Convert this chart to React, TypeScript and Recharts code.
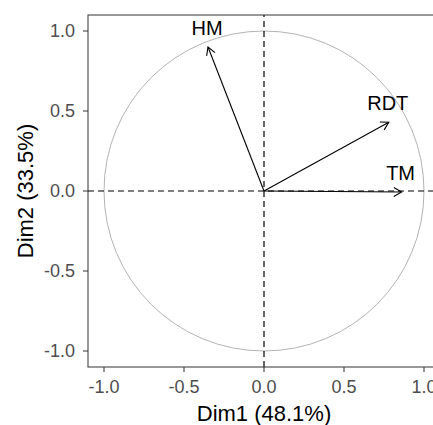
import { ScatterChart, Scatter, XAxis, YAxis, ReferenceLine, ReferenceArea } from 'recharts';

const variables = ['HM', 'RDT', 'TM'];
const dim1 = [-0.35, 0.78, 0.86];
const dim2 = [0.9, 0.43, -0.006];
const axisTicks = [-1, -0.5, 0, 0.5, 1];
const xTitle = 'Dim1 (48.1%)';
const yTitle = 'Dim2 (33.5%)';

const points = variables.map((name, i) => ({ name, x: dim1[i], y: dim2[i] }));

const FONT = '"Liberation Sans", Arial, sans-serif';
const fmt = (v: number) => v.toFixed(1);

// open arrow head drawn at the segment end
function Arrow(props: any) {
  const { x1, y1, x2, y2 } = props;
  const a = Math.atan2(y2 - y1, x2 - x1);
  const len = 9;
  const spread = Math.PI / 6;
  const hx1 = x2 - len * Math.cos(a - spread);
  const hy1 = y2 - len * Math.sin(a - spread);
  const hx2 = x2 - len * Math.cos(a + spread);
  const hy2 = y2 - len * Math.sin(a + spread);
  return (
    <g>
      <line x1={x1} y1={y1} x2={x2} y2={y2} stroke="#000" strokeWidth={1.1} />
      <polyline
        points={`${hx1},${hy1} ${x2},${y2} ${hx2},${hy2}`}
        fill="none"
        stroke="#000"
        strokeWidth={1.1}
      />
    </g>
  );
}

const UnitCircle = (p: any) => (
  <ellipse
    cx={p.x + p.width / 2}
    cy={p.y + p.height / 2}
    rx={p.width / 2}
    ry={p.height / 2}
    fill="none"
    stroke="#b3b3b3"
    strokeWidth={1}
  />
);

const PanelBorder = (p: any) => (
  <rect x={p.x} y={p.y} width={p.width} height={p.height} fill="none" stroke="#333" strokeWidth={1} />
);

const VarLabel = (p: any) => (
  <text
    x={p.cx - 1}
    y={p.cy - 12}
    textAnchor="middle"
    fontSize={20}
    fontFamily={FONT}
    fill="#000"
  >
    {p.payload.name}
  </text>
);

const tickStyle = { fill: '#4d4d4d', fontSize: 18, fontFamily: FONT };

export default function App() {
  return (
    <div
      style={{
        position: 'absolute',
        left: 0,
        top: 0,
        width: 433,
        height: 425,
        overflow: 'hidden',
        background: '#fff',
      }}
    >
      <ScatterChart width={440} height={425} margin={{ top: 15, right: 0, bottom: 0, left: 0 }}>
        <XAxis
          type="number"
          dataKey="x"
          domain={[-1.1, 1.1]}
          ticks={axisTicks}
          tickFormatter={fmt}
          allowDataOverflow
          height={58}
          axisLine={false}
          tickSize={5}
          tickMargin={8}
          tickLine={{ stroke: '#333' }}
          tick={tickStyle}
          label={{
            value: xTitle,
            position: 'insideBottom',
            offset: 4,
            fill: '#000',
            fontSize: 22,
            fontFamily: FONT,
          }}
        />
        <YAxis
          type="number"
          dataKey="y"
          domain={[-1.1, 1.1]}
          ticks={axisTicks}
          tickFormatter={fmt}
          allowDataOverflow
          width={88}
          axisLine={false}
          tickSize={5}
          tickMargin={8}
          tickLine={{ stroke: '#333' }}
          tick={tickStyle}
          label={{
            value: yTitle,
            angle: -90,
            position: 'insideLeft',
            offset: 25,
            fill: '#000',
            fontSize: 22,
            fontFamily: FONT,
            style: { textAnchor: 'middle' },
          }}
        />
        <ReferenceArea x1={-1} x2={1} y1={-1} y2={1} shape={UnitCircle} ifOverflow="visible" />
        <ReferenceLine x={0} stroke="#000" strokeWidth={1.2} strokeDasharray="6 4" />
        <ReferenceLine y={0} stroke="#000" strokeWidth={1.2} strokeDasharray="6 4" />
        {points.map((p) => (
          <ReferenceLine
            key={p.name}
            segment={[
              { x: 0, y: 0 },
              { x: p.x, y: p.y },
            ]}
            shape={(props: any) => <Arrow {...props} />}
          />
        ))}
        <Scatter data={points} shape={VarLabel} isAnimationActive={false} />
        <ReferenceArea
          x1={-1.1}
          x2={1.1}
          y1={-1.1}
          y2={1.1}
          shape={PanelBorder}
          ifOverflow="visible"
        />
      </ScatterChart>
    </div>
  );
}
